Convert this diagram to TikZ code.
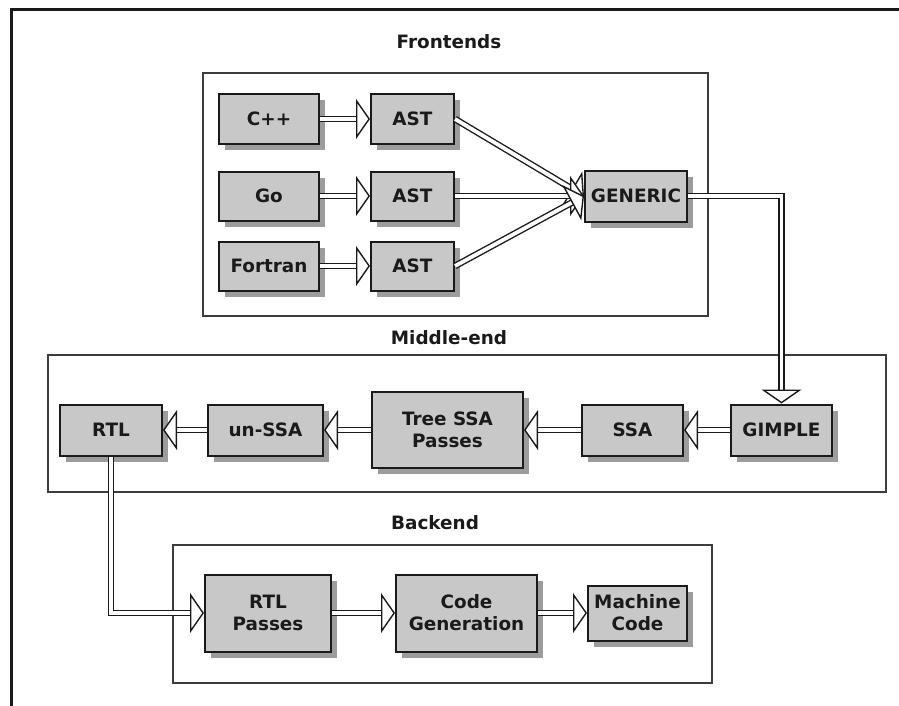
\documentclass[tikz,border=0pt]{standalone}
\usepackage{fontspec}
\setmainfont{DejaVu Sans}
\usetikzlibrary{positioning,arrows.meta,shadows}
\definecolor{boxgray}{HTML}{C8C8C8}
\definecolor{shadegray}{HTML}{9C9C9C}
\definecolor{ink}{HTML}{1A1A1A}

\tikzset{
  stage/.style={draw=ink, line width=1pt, fill=boxgray, text=ink, align=center, inner sep=1pt,
    font=\bfseries\fontsize{9.2}{11}\selectfont,
    drop shadow={shadow xshift=3.2pt, shadow yshift=-3pt, fill=shadegray, opacity=1}},
  pipe/.style={draw=ink, line width=0.7pt, double=white, double distance=1.9pt,
    -{Triangle[fill=white, length=7pt, width=20pt]}},
  group/.style={draw=ink!85, line width=1pt},
  title/.style={text=ink, font=\bfseries\fontsize{9.2}{11}\selectfont}
}

\begin{document}
\begin{tikzpicture}[x=0.5pt, y=-0.5pt]
    \useasboundingbox (0,0) rectangle (899,706);

    % Outer frame
    \draw[ink, line width=1.5pt] (11,706) -- (11,10) -- (899,10);

    % Stage frames
    \draw[group] (203,73) rectangle (708,316);
    \draw[group] (48,355) rectangle (886,492);
    \draw[group] (173,545) rectangle (712,683);
    \node[title] (fronttitle) at (449,42) {Frontends};
    \node[title] (middletitle) at (449,338) {Middle-end};
    \node[title] (backtitle) at (435,523) {Backend};

    % Frontends
    \foreach \lang/\y [count=\i] in {C++/119, Go/196, Fortran/266} {
        \node[stage, minimum width=50pt, minimum height=24.5pt] (lang\i) at (269,\y) {\lang};
        \node[stage, minimum width=41.5pt, minimum height=24.5pt] (ast\i) at (412.5,\y) {AST};
    }
    \node[stage, minimum width=51pt, minimum height=25.5pt] (generic) at (636,196) {GENERIC};

    % Middle-end
    \node[stage, minimum width=51pt, minimum height=25.5pt] (rtl) at (111,430) {RTL};
    \node[stage, minimum width=57.5pt, minimum height=25.5pt] (unssa) at (265.5,430) {un-SSA};
    \node[stage, minimum width=75.5pt, minimum height=38pt] (treessa) at (447.5,430) {Tree SSA\\Passes};
    \node[stage, minimum width=50.5pt, minimum height=25.5pt] (ssa) at (632.5,430) {SSA};
    \node[stage, minimum width=50.5pt, minimum height=25.5pt] (gimple) at (781.5,430) {GIMPLE};

    % Backend
    \node[stage, minimum width=63pt, minimum height=38.5pt] (rtlpass) at (268,613) {RTL\\Passes};
    \node[stage, minimum width=70.5pt, minimum height=38.5pt] (codegen) at (466.5,613) {Code\\Generation};
    \node[stage, minimum width=49.5pt, minimum height=27.5pt] (mcode) at (637.5,613) {Machine\\Code};

    % Connectors
    \foreach \i in {1,2,3} {
        \draw[pipe] (lang\i) -- (ast\i);
        \draw[pipe] (ast\i.east) -- (generic.west);
    }
    \draw[pipe] (generic.east) -| (gimple.north);
    \draw[pipe] (gimple) -- (ssa);
    \draw[pipe] (ssa) -- (treessa);
    \draw[pipe] (treessa) -- (unssa);
    \draw[pipe] (unssa) -- (rtl);
    \draw[pipe] (rtl.south) |- (rtlpass.west);
    \draw[pipe] (rtlpass) -- (codegen);
    \draw[pipe] (codegen) -- (mcode);
\end{tikzpicture}
\end{document}
